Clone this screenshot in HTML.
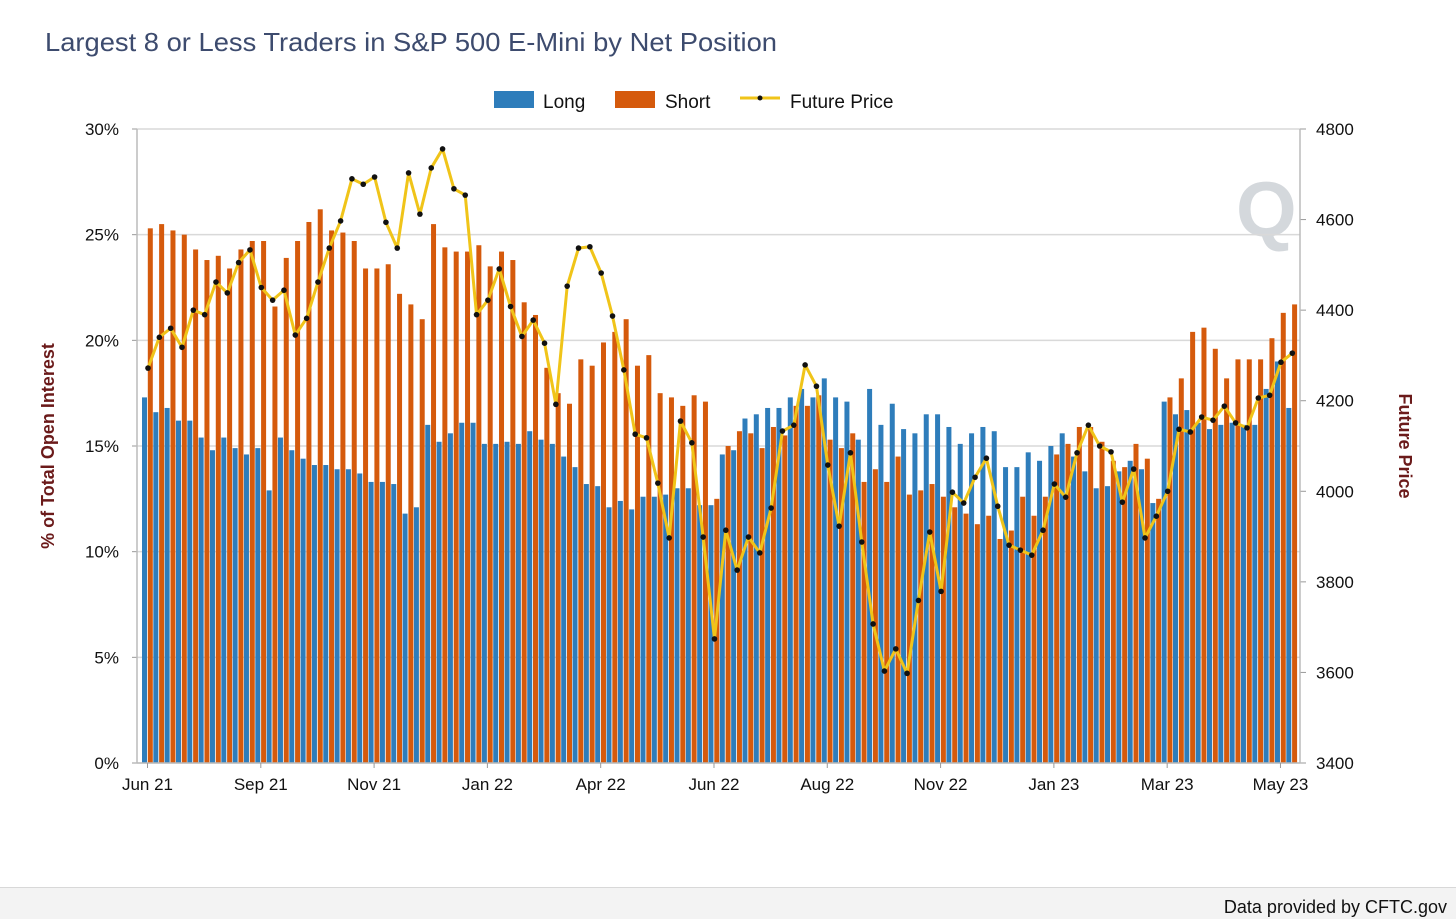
<!DOCTYPE html>
<html><head><meta charset="utf-8"><style>
html,body{margin:0;padding:0;background:#fff;width:1456px;height:919px;overflow:hidden}
svg{display:block;font-family:"Liberation Sans",Arial,sans-serif}
</style></head><body>
<svg id="chart" width="1456" height="919" viewBox="0 0 1456 919" xmlns="http://www.w3.org/2000/svg">
<text x="45" y="51" font-size="26" fill="#3d4b6e" textLength="732" lengthAdjust="spacingAndGlyphs">Largest 8 or Less Traders in S&amp;P 500 E-Mini by Net Position</text>
<g>
<g><rect x="494" y="91" width="40" height="17" fill="#2e7dbb"/><text x="543" y="108" font-size="19" fill="#111">Long</text></g>
<g><rect x="615" y="91" width="40" height="17" fill="#d55a0c"/><text x="665" y="108" font-size="19" fill="#111">Short</text></g>
<g><line x1="740" y1="98" x2="780" y2="98" stroke="#f0c419" stroke-width="3"/><circle cx="760" cy="98" r="2.5" fill="#111"/><text x="790" y="108" font-size="19" fill="#111">Future Price</text></g>
</g>
<text x="1236" y="236" font-size="78" font-weight="bold" fill="#d4d8dc">Q</text>
<g id="grid"></g><g id="bars"></g><g id="line"></g><g id="axes"></g>
<text transform="translate(54,446) rotate(-90)" text-anchor="middle" font-size="18" font-weight="bold" fill="#6b1a1a">% of Total Open Interest</text>
<text transform="translate(1399,446) rotate(90)" text-anchor="middle" font-size="18" font-weight="bold" fill="#6b1a1a">Future Price</text>
<rect x="0" y="887" width="1456" height="32" fill="#f3f3f3"/>
<line x1="0" y1="887.5" x2="1456" y2="887.5" stroke="#d8d8d8"/>
<text x="1447" y="913" text-anchor="end" font-size="18" fill="#111">Data provided by CFTC.gov</text>
</svg>
<script>
const longVals=[17.3,16.6,16.8,16.2,16.2,15.4,14.8,15.4,14.9,14.6,14.9,12.9,15.4,14.8,14.4,14.1,14.1,13.9,13.9,13.7,13.3,13.3,13.2,11.8,12.1,16.0,15.2,15.6,16.1,16.1,15.1,15.1,15.2,15.1,15.7,15.3,15.1,14.5,14.0,13.2,13.1,12.1,12.4,12.0,12.6,12.6,12.7,13.0,13.0,12.2,12.2,14.6,14.8,16.3,16.5,16.8,16.8,17.3,17.7,17.3,18.2,17.3,17.1,15.3,17.7,16.0,17.0,15.8,15.6,16.5,16.5,15.9,15.1,15.6,15.9,15.7,14.0,14.0,14.7,14.3,15.0,15.6,14.5,13.8,13.0,13.1,13.8,14.3,13.9,12.3,17.1,16.5,16.7,16.1,15.8,16.0,16.1,16.0,16.0,17.7,19.0,16.8];
const shortVals=[25.3,25.5,25.2,25.0,24.3,23.8,24.0,23.4,24.3,24.7,24.7,21.6,23.9,24.7,25.6,26.2,25.2,25.1,24.7,23.4,23.4,23.6,22.2,21.7,21.0,25.5,24.4,24.2,24.2,24.5,23.5,24.2,23.8,21.8,21.2,18.7,17.5,17.0,19.1,18.8,19.9,20.4,21.0,18.8,19.3,17.5,17.3,16.9,17.4,17.1,12.5,15.0,15.7,15.6,14.9,15.9,15.5,16.9,16.9,17.4,15.3,14.9,15.6,13.3,13.9,13.3,14.5,12.7,12.9,13.2,12.6,12.1,11.8,11.3,11.7,10.6,11.0,12.6,11.7,12.6,14.6,15.1,15.9,15.9,15.2,14.3,14.0,15.1,14.4,12.5,17.3,18.2,20.4,20.6,19.6,18.2,19.1,19.1,19.1,20.1,21.3,21.7];
const priceVals=[4272,4340,4360,4318,4400,4390,4462,4438,4505,4533,4450,4422,4444,4345,4382,4462,4537,4597,4690,4678,4694,4594,4537,4703,4612,4714,4756,4668,4654,4390,4422,4491,4408,4342,4378,4327,4192,4453,4537,4540,4482,4387,4268,4126,4118,4018,3897,4155,4107,3899,3674,3914,3826,3899,3864,3963,4133,4146,4279,4232,4058,3923,4085,3888,3707,3603,3652,3598,3759,3910,3779,3998,3974,4031,4073,3967,3881,3870,3859,3914,4016,3987,4085,4146,4100,4087,3976,4049,3897,3945,4000,4137,4131,4164,4157,4188,4151,4140,4206,4212,4285,4305];
const xLabels=["Jun 21","Sep 21","Nov 21","Jan 22","Apr 22","Jun 22","Aug 22","Nov 22","Jan 23","Mar 23","May 23"];
const leftTicks=[0,5,10,15,20,25,30];
const rightTicks=[3400,3600,3800,4000,4200,4400,4600,4800];

const NS="http://www.w3.org/2000/svg";
const L=137,R=1300,T=129,B=763;
const N=longVals.length;
const X0=147.5,X1=1291.8;
const step=(X1-X0)/(N-1);
const yL=v=>B-(v/30)*(B-T);
const yR=v=>B-((v-3400)/1400)*(B-T);
const xc=i=>X0+step*i;
function mk(tag,attrs,parent){const e=document.createElementNS(NS,tag);for(const k in attrs)e.setAttribute(k,attrs[k]);parent.appendChild(e);return e;}
const grid=document.getElementById('grid'),bars=document.getElementById('bars'),line=document.getElementById('line'),axes=document.getElementById('axes');
leftTicks.forEach(t=>{
  const g=mk('line',{x1:L,x2:R,y1:yL(t),y2:yL(t),stroke:'#d9d9d9','stroke-width':1.5},grid);
  
  
  mk('line',{x1:L-5,x2:L,y1:yL(t),y2:yL(t),stroke:'#999'},axes);
  const tx=mk('text',{x:L-18,y:yL(t)+6,'text-anchor':'end','font-size':17,fill:'#111'},axes);
  tx.textContent=t+'%';
  
  
});
rightTicks.forEach(t=>{
  mk('line',{x1:R,x2:R+6,y1:yR(t),y2:yR(t),stroke:'#999'},axes);
  const tx=mk('text',{x:R+16,y:yR(t)+6,'font-size':17,fill:'#111'},axes);
  tx.textContent=t;
  
  
});
mk('line',{x1:L,x2:L,y1:T,y2:B,stroke:'#bbb','stroke-width':1.5},axes);
mk('line',{x1:R,x2:R,y1:T,y2:B,stroke:'#bbb','stroke-width':1.5},axes);
mk('line',{x1:L,x2:R,y1:B,y2:B,stroke:'#bbb','stroke-width':1.5},axes);
xLabels.forEach((lab,k)=>{
  const i=k*10;
  const tx=mk('text',{x:xc(i),y:790,'text-anchor':'middle','font-size':17,fill:'#111'},axes);
  tx.textContent=lab;
  
  
  mk('line',{x1:xc(i),x2:xc(i),y1:B,y2:B+5,stroke:'#999'},axes);
});
for(let i=0;i<N;i++){
  const c=xc(i);
  const b=mk('rect',{x:c-5.5,y:yL(longVals[i]),width:5,height:B-yL(longVals[i]),fill:'#2e7dbb'},bars);
  
  
  const s=mk('rect',{x:c+0.3,y:yL(shortVals[i]),width:5,height:B-yL(shortVals[i]),fill:'#d55a0c'},bars);
  
  
}
const pts=priceVals.map((v,i)=>(xc(i)+0.5)+','+yR(v)).join(' ');
const pl=mk('polyline',{points:pts,fill:'none',stroke:'#f0c419','stroke-width':3,'stroke-linejoin':'round'},line);


priceVals.forEach((v,i)=>{
  const p=mk('circle',{cx:xc(i)+0.5,cy:yR(v),r:2.8,fill:'#111'},line);
  
  
});
</script>
</body></html>
